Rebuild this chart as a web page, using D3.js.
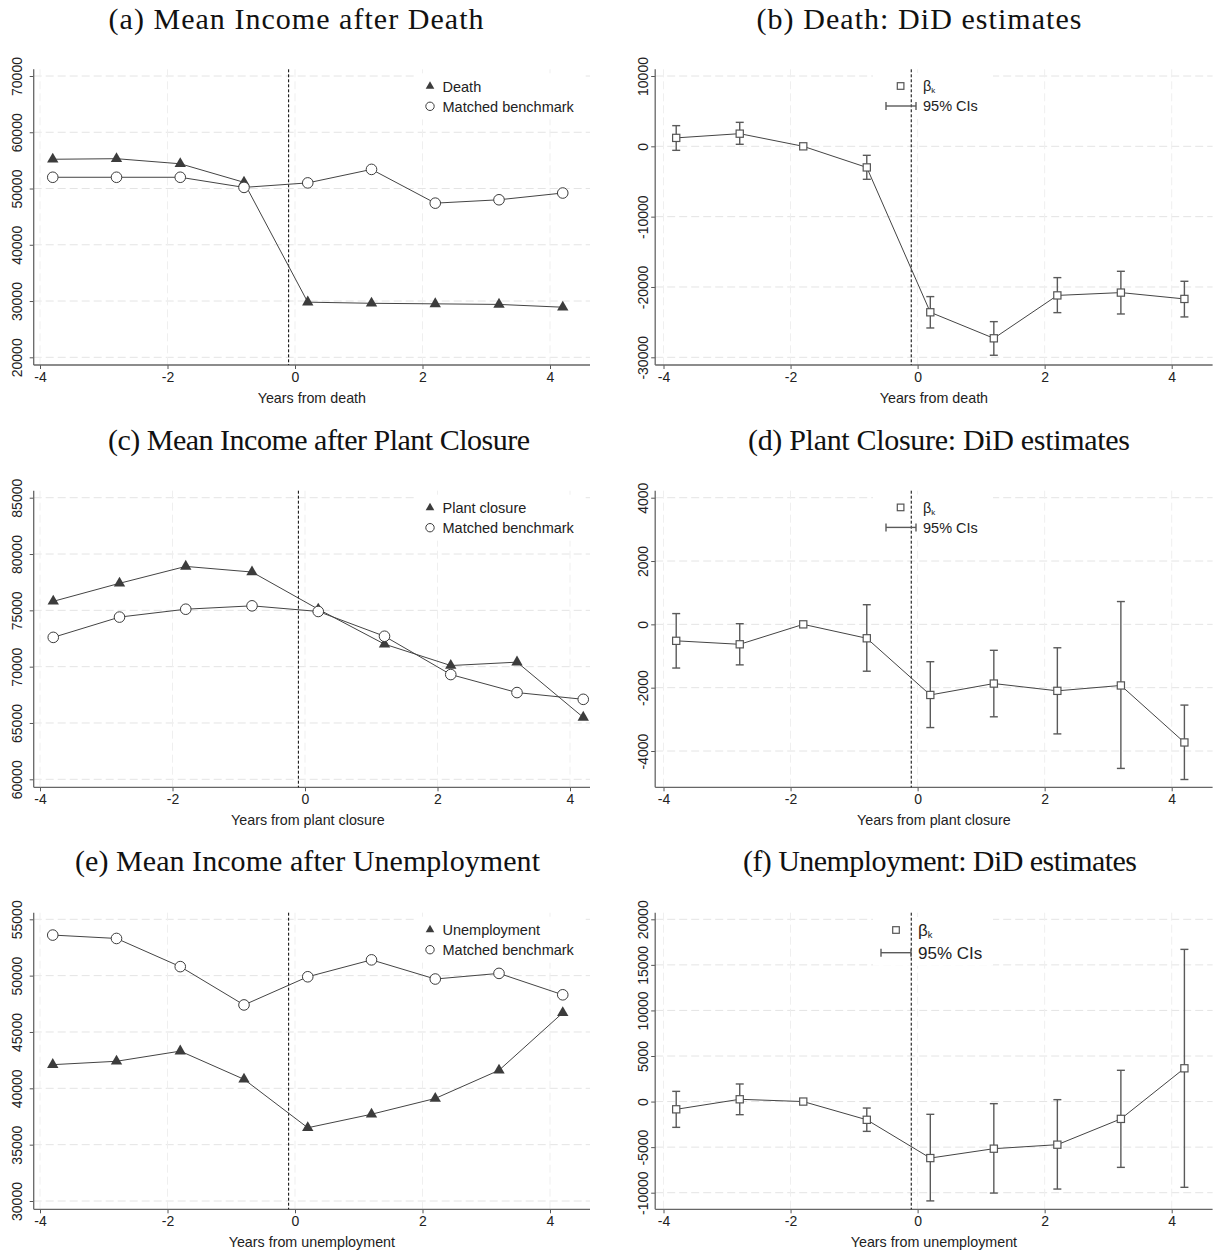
<!DOCTYPE html>
<html lang="en">
<head>
<meta charset="UTF-8">
<title>Income after death, plant closure and unemployment</title>
<script src="https://cdn.jsdelivr.net/npm/d3@7"></script>
<style>
  body{ margin:0; padding:0; background:#fff; }
  svg{ display:block; background:#fff; }
  .title{ font-family:"Liberation Serif","Times New Roman",serif; fill:#111; }
  .tick text, .axtitle, .leg{ font-family:"Liberation Sans",Arial,sans-serif; fill:#222; }
  .grid{ stroke:#e4e4e4; stroke-width:1; stroke-dasharray:8 4; }
  .vgrid{ stroke:#efefef; stroke-width:1; stroke-dasharray:8 4; }
  .axline{ stroke:#666; stroke-width:1.3; }
  .refline{ stroke:#000; stroke-width:1; stroke-dasharray:3 2; }
  .series{ fill:none; stroke:#444; stroke-width:1; }
  .ci{ stroke:#5a5a5a; stroke-width:1.4; }
</style>
</head>
<body>
<div id="chart"></div>
<script>
// ---- data ----
const years = [-3.8, -2.8, -1.8, -0.8, 0.2, 1.2, 2.2, 3.2, 4.2];
const xTickVals = [-4, -2, 0, 2, 4];
const eventLine = -0.1;

// (a) death, mean income
const deathTreated = [55200, 55300, 54400, 51100, 29800, 29600, 29500, 29400, 28900];
const deathMatched = [52000, 52000, 52000, 50200, 51000, 53400, 47400, 48000, 49200];
const deathIncomeTicks = [20000, 30000, 40000, 50000, 60000, 70000];
// (b) death, DiD
const deathBeta = [1200, 1800, 0, -3000, -23600, -27300, -21200, -20800, -21700];
const deathLo = [-570, 290, null, -4690, -25830, -29710, -23650, -23840, -24260];
const deathHi = [2940, 3410, null, -1280, -21370, -24930, -18670, -17770, -19190];
const deathDidTicks = [-30000, -20000, -10000, 0, 10000];

// (c) plant closure, mean income
const plantTreated = [75800, 77400, 78900, 78400, 75100, 72000, 70100, 70400, 65500];
const plantMatched = [72600, 74400, 75100, 75400, 74900, 72700, 69300, 67700, 67100];
const plantIncomeTicks = [60000, 65000, 70000, 75000, 80000, 85000];
// (d) plant closure, DiD
const plantBeta = [-520, -630, 0, -440, -2230, -1870, -2100, -1930, -3730];
const plantLo = [-1380, -1280, null, -1480, -3260, -2920, -3460, -4550, -4900];
const plantHi = [340, 20, null, 620, -1180, -820, -740, 720, -2550];
const plantDidTicks = [-4000, -2000, 0, 2000, 4000];

// (e) unemployment, mean income
const unempTreated = [42100, 42400, 43300, 40800, 36500, 37700, 39100, 41600, 46700];
const unempMatched = [53600, 53300, 50800, 47400, 49900, 51400, 49700, 50200, 48300];
const unempIncomeTicks = [30000, 35000, 40000, 45000, 50000, 55000];
// (f) unemployment, DiD
const unempBeta = [-850, 250, 0, -2000, -6200, -5170, -4730, -1900, 3650];
const unempLo = [-2830, -1440, null, -3270, -10900, -10040, -9600, -7220, -9410];
const unempHi = [1120, 1930, null, -710, -1400, -230, 210, 3430, 16700];
const unempDidTicks = [-10000, -5000, 0, 5000, 10000, 15000, 20000];

const W = 1221, H = 1253;
const svg = d3.select("#chart").append("svg").attr("width", W).attr("height", H);

// rows and columns of the 3x2 grid (pixel layout)
const rows = [
  {top: 69.3, bottom: 365, title: 29},
  {top: 490.7, bottom: 787.3, title: 450},
  {top: 912.7, bottom: 1209.3, title: 871}
];
const cols = [
  {axisX: 33.7, end: 590, labOff: 16.5},
  {axisX: 655.2, end: 1212.6, labOff: 12.5}
];

function fmt(d){ return String(d); }

function drawTitle(txt, cx, y, len){
  svg.append("text").attr("class", "title")
    .attr("x", cx).attr("y", y)
    .attr("text-anchor", "middle")
    .attr("font-size", 30)
    .attr("textLength", len).attr("lengthAdjust", "spacing")
    .text(txt);
}

// yPx: pixel rows of the lowest and highest tick
function frame(row, col, yTicks, yPx, xl, xr, xTitle, titleShift){
  const r = rows[row], c = cols[col];
  const g = svg.append("g");
  const x = d3.scaleLinear().domain([-4, 4]).range([xl, xr]);
  const y = d3.scaleLinear().domain([yTicks[0], yTicks[yTicks.length - 1]]).range(yPx);

  g.selectAll("line.grid").data(yTicks).join("line").attr("class", "grid")
    .attr("x1", c.axisX).attr("x2", c.end)
    .attr("y1", d => y(d)).attr("y2", d => y(d));
  g.selectAll("line.vgrid").data(xTickVals).join("line").attr("class", "vgrid")
    .attr("x1", d => x(d)).attr("x2", d => x(d))
    .attr("y1", r.top).attr("y2", r.bottom);

  // x axis
  const xa = g.append("g").attr("transform", "translate(0," + r.bottom + ")")
    .call(d3.axisBottom(x).tickValues(xTickVals).tickSize(4).tickSizeOuter(0).tickFormat(fmt));
  xa.select(".domain").remove();
  xa.selectAll("line").attr("stroke", "#555");
  xa.selectAll("text").attr("font-size", 14).attr("y", 7).attr("dy", "0.71em")
    .attr("font-family", null).attr("fill", "#222");
  xa.attr("font-family", null).attr("font-size", null);
  g.append("line").attr("class", "axline")
    .attr("x1", c.axisX).attr("x2", c.end).attr("y1", r.bottom).attr("y2", r.bottom);

  // y axis, labels turned
  const ya = g.append("g").attr("transform", "translate(" + c.axisX + ",0)")
    .call(d3.axisLeft(y).tickValues(yTicks).tickSize(4).tickSizeOuter(0).tickFormat(fmt));
  ya.select(".domain").remove();
  ya.selectAll("line").attr("stroke", "#555");
  ya.attr("font-family", null).attr("font-size", null);
  ya.selectAll("text")
    .attr("x", null).attr("dy", "0.36em")
    .attr("text-anchor", "middle").attr("font-size", 14).attr("fill", "#222")
    .attr("transform", "translate(" + (-c.labOff) + ",0) rotate(-90)");
  g.append("line").attr("class", "axline")
    .attr("x1", c.axisX).attr("x2", c.axisX).attr("y1", r.top).attr("y2", r.bottom);

  g.append("text").attr("class", "axtitle")
    .attr("x", (c.axisX + c.end) / 2 + (titleShift || 0)).attr("y", r.bottom + 38)
    .attr("text-anchor", "middle").attr("font-size", 14.3)
    .text(xTitle);

  return {g, x, y, r, c};
}

function legendBox(p, x0, x1, y0, y1){
  p.g.append("rect").attr("x", x0).attr("y", y0)
    .attr("width", x1 - x0).attr("height", y1 - y0).attr("fill", "#fff");
}

function refLine(p){
  p.g.append("line").attr("class", "refline")
    .attr("x1", p.x(eventLine)).attr("x2", p.x(eventLine))
    .attr("y1", p.r.top).attr("y2", p.r.bottom);
}

const tri = d3.symbol().type(d3.symbolTriangle);

function incomePanel(row, treated, matched, yTicks, yPx, xr, label, xTitle, titleShift){
  const p = frame(row, 0, yTicks, yPx, 40, xr, xTitle, titleShift);
  const ly = p.r.top + 17;
  legendBox(p, 417, 583, ly - 13, ly + 33);
  refLine(p);
  const line = d3.line().x((d, i) => p.x(years[i])).y(d => p.y(d));
  p.g.append("path").attr("class", "series").attr("d", line(treated));
  p.g.append("path").attr("class", "series").attr("d", line(matched));
  p.g.selectAll("path.tri").data(treated).join("path").attr("class", "tri")
    .attr("d", tri.size(56)())
    .attr("transform", (d, i) => "translate(" + p.x(years[i]) + "," + p.y(d) + ")")
    .attr("fill", "#3c3c3c");
  p.g.selectAll("circle.bench").data(matched).join("circle").attr("class", "bench")
    .attr("cx", (d, i) => p.x(years[i])).attr("cy", d => p.y(d)).attr("r", 5.3)
    .attr("fill", "#fff").attr("stroke", "#3c3c3c").attr("stroke-width", 1);

  // legend
  p.g.append("path").attr("d", tri.size(32)())
    .attr("transform", "translate(430," + ly + ")").attr("fill", "#3c3c3c");
  p.g.append("circle").attr("cx", 430).attr("cy", ly + 20).attr("r", 4.2)
    .attr("fill", "#fff").attr("stroke", "#3c3c3c");
  p.g.append("text").attr("class", "leg").attr("x", 442.5).attr("y", ly).attr("dy", "0.36em")
    .attr("font-size", 14.5).text(label);
  p.g.append("text").attr("class", "leg").attr("x", 442.5).attr("y", ly + 20).attr("dy", "0.36em")
    .attr("font-size", 14.5).text("Matched benchmark");
}

function didPanel(row, beta, lo, hi, yTicks, yPx, xTitle, big){
  const p = frame(row, 1, yTicks, yPx, 663.5, 1171.7, xTitle, 0);
  const fs = big ? 17 : 14.5;
  const lx = big ? 896 : 900.6, tx = big ? 918 : 923;
  const ly = big ? p.r.top + 17.3 : p.r.top + 16.7;
  const dy = big ? 22.7 : 20;
  legendBox(p, 873, 993, ly - 13, ly + dy + 13);
  refLine(p);

  const line = d3.line().x((d, i) => p.x(years[i])).y(d => p.y(d));
  p.g.append("path").attr("class", "series").attr("d", line(beta));

  const cis = beta.map((b, i) => ({yr: years[i], lo: lo[i], hi: hi[i]})).filter(d => d.lo !== null);
  p.g.selectAll("line.civ").data(cis).join("line").attr("class", "ci civ")
    .attr("x1", d => p.x(d.yr)).attr("x2", d => p.x(d.yr))
    .attr("y1", d => p.y(d.lo)).attr("y2", d => p.y(d.hi));
  p.g.selectAll("line.cilo").data(cis).join("line").attr("class", "ci cilo")
    .attr("x1", d => p.x(d.yr) - 4).attr("x2", d => p.x(d.yr) + 4)
    .attr("y1", d => p.y(d.lo)).attr("y2", d => p.y(d.lo));
  p.g.selectAll("line.cihi").data(cis).join("line").attr("class", "ci cihi")
    .attr("x1", d => p.x(d.yr) - 4).attr("x2", d => p.x(d.yr) + 4)
    .attr("y1", d => p.y(d.hi)).attr("y2", d => p.y(d.hi));

  p.g.selectAll("rect.beta").data(beta).join("rect").attr("class", "beta")
    .attr("x", (d, i) => p.x(years[i]) - 3.6).attr("y", d => p.y(d) - 3.6)
    .attr("width", 7.2).attr("height", 7.2)
    .attr("fill", "#fff").attr("stroke", "#555").attr("stroke-width", 1.2);

  // legend
  p.g.append("rect").attr("x", lx - 3.3).attr("y", ly - 3.3).attr("width", 6.6).attr("height", 6.6)
    .attr("fill", "#fff").attr("stroke", "#555").attr("stroke-width", 1.2);
  const bt = p.g.append("text").attr("class", "leg").attr("x", tx).attr("y", ly).attr("dy", "0.36em")
    .attr("font-size", fs);
  bt.append("tspan").text("β");
  bt.append("tspan").attr("font-size", fs * 0.55).attr("dy", "0.25em").text("k");
  const cy = ly + dy, cx0 = big ? 881 : 886, cx1 = big ? 911 : 916;
  p.g.append("line").attr("class", "ci").attr("x1", cx0).attr("x2", cx1).attr("y1", cy).attr("y2", cy);
  p.g.append("line").attr("class", "ci").attr("x1", cx0).attr("x2", cx0).attr("y1", cy - 4).attr("y2", cy + 4);
  p.g.append("line").attr("class", "ci").attr("x1", cx1).attr("x2", cx1).attr("y1", cy - 4).attr("y2", cy + 4);
  p.g.append("text").attr("class", "leg").attr("x", tx).attr("y", cy).attr("dy", "0.36em")
    .attr("font-size", fs).text("95% CIs");
}

drawTitle("(a) Mean Income after Death", 296, rows[0].title, 375);
drawTitle("(b) Death: DiD estimates", 919, rows[0].title, 325);
drawTitle("(c) Mean Income after Plant Closure", 319, rows[1].title, 422);
drawTitle("(d) Plant Closure: DiD estimates", 939, rows[1].title, 382);
drawTitle("(e) Mean Income after Unemployment", 307.5, rows[2].title, 465);
drawTitle("(f) Unemployment: DiD estimates", 940, rows[2].title, 394);

incomePanel(0, deathTreated, deathMatched, deathIncomeTicks, [357.3, 76], 550, "Death", "Years from death", 0);
didPanel(0, deathBeta, deathLo, deathHi, deathDidTicks, [357.3, 76], "Years from death", false);
incomePanel(1, plantTreated, plantMatched, plantIncomeTicks, [779.3, 497.7], 570, "Plant closure", "Years from plant closure", -4);
didPanel(1, plantBeta, plantLo, plantHi, plantDidTicks, [751, 497.7], "Years from plant closure", false);
incomePanel(2, unempTreated, unempMatched, unempIncomeTicks, [1201, 919.3], 550, "Unemployment", "Years from unemployment", 0);
didPanel(2, unempBeta, unempLo, unempHi, unempDidTicks, [1192.7, 919.3], "Years from unemployment", true);
</script>
</body>
</html>
